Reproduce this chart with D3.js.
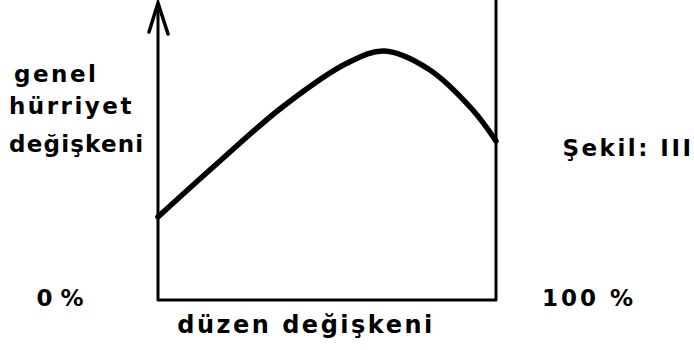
<!DOCTYPE html>
<html>
<head>
<meta charset="utf-8">
<script src="https://cdn.jsdelivr.net/npm/d3@7"></script>
<style>
  body { margin: 0; background: #fff; }
  text { font-family: "DejaVu Sans", sans-serif; font-weight: bold; fill: #000; }
</style>
</head>
<body>
<svg width="694" height="350"></svg>
<script>
// düzen değişkeni (%) vs genel hürriyet değişkeni (arbitrary units)
const orderPct = [0, 18, 37, 56, 67, 80, 93, 100];
const freedom  = [27.7, 46, 64.5, 79, 83, 77, 63.5, 53];
const yLabelLines = ["genel", "hürriyet", "değişkeni"];
const xTickLabels = ["0 %", "100 %"];
const xTitle = "düzen değişkeni";
const figLabel = "Şekil: III";

let svg = d3.select("svg");
let margin = { top: 0, left: 158, right: 198, bottom: 50 };
let x = d3.scaleLinear().domain([0, 100]).range([margin.left, 694 - margin.right]);
let y = d3.scaleLinear().domain([0, 100]).range([300, 0]);

// axes (drawn as plain strokes, like the sketch)
svg.append("path")
  .attr("d", "M" + x(0) + "," + y(99) + "V" + y(0) + "H" + x(100) + "V" + y(100))
  .attr("fill", "none")
  .attr("stroke", "#000")
  .attr("stroke-width", 3)
  .attr("stroke-linejoin", "round");
// arrow head on the y axis
svg.append("path")
  .attr("d", "M" + (x(0) - 9) + "," + (y(100) + 32) + "L" + x(0) + "," + (y(100) + 3) + "L" + (x(0) + 10) + "," + (y(100) + 34))
  .attr("fill", "none")
  .attr("stroke", "#000")
  .attr("stroke-width", 3.5)
  .attr("stroke-linecap", "round");

// the curve
let line = d3.line()
  .x(d => x(d[0]))
  .y(d => y(d[1]))
  .curve(d3.curveCatmullRom.alpha(0.5));
svg.append("path")
  .datum(orderPct.map((p, i) => [p, freedom[i]]))
  .attr("d", line)
  .attr("fill", "none")
  .attr("stroke", "#000")
  .attr("stroke-width", 5.5)
  .attr("stroke-linecap", "round");

// y label
svg.selectAll(".ylab")
  .data(yLabelLines)
  .enter().append("text")
  .attr("class", "ylab")
  .attr("x", d => d == "genel" ? 14 : 9)
  .attr("y", (d, i) => [82, 114, 152][i])
  .attr("font-size", "23px")
  .attr("letter-spacing", (d, i) => [2.5, 2.5, 1.2][i])
  .text(d => d);

// end labels
svg.append("text").attr("x", 60).attr("y", 306).attr("text-anchor", "middle")
  .attr("font-size", "23px").text(xTickLabels[0]);
svg.append("text").attr("x", 589).attr("y", 306).attr("text-anchor", "middle")
  .attr("font-size", "23px").attr("letter-spacing", 3).text(xTickLabels[1]);

svg.append("text").attr("x", 306).attr("y", 333).attr("text-anchor", "middle")
  .attr("font-size", "24px").attr("letter-spacing", 2.5).text(xTitle);

svg.append("text").attr("x", 628).attr("y", 156).attr("text-anchor", "middle")
  .attr("font-size", "23px").attr("letter-spacing", 2.5).text(figLabel);
</script>
</body>
</html>
